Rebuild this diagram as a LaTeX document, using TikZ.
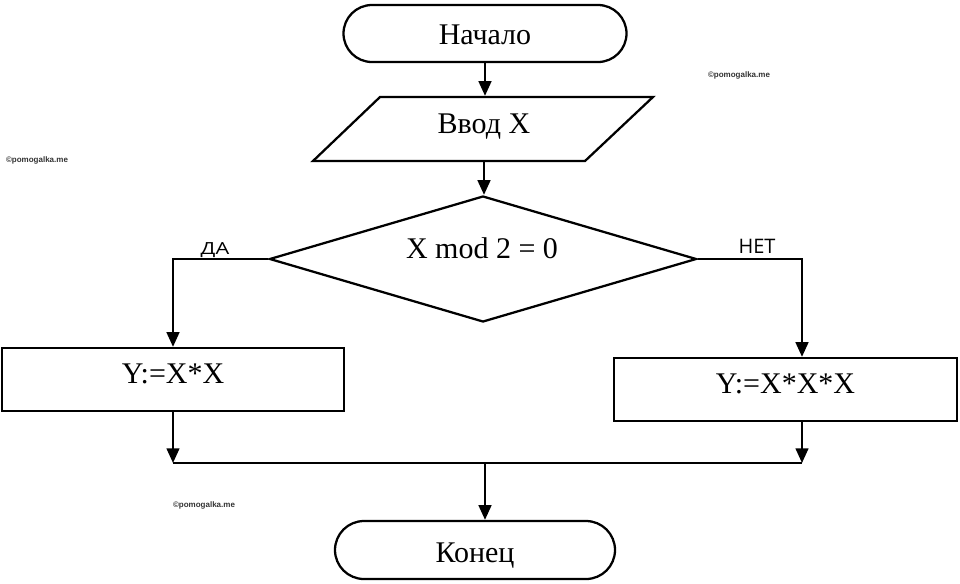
\documentclass[tikz,border=0pt]{standalone}
\usepackage{fontspec}
\setmainfont{Liberation Serif}
\newfontfamily\lblfont{Open Sans}
\newfontfamily\wmfont{Liberation Sans}
\usetikzlibrary{arrows.meta,shapes.geometric,shapes.misc}
\begin{document}
\begin{tikzpicture}[x=0.75pt,y=-0.75pt,
  line width=1.7pt,
  arr/.style={-{Triangle[length=11pt,width=9.5pt]}},
  txt/.style={font=\fontsize{22.5}{27}\selectfont},
  term/.style={draw, rounded rectangle, inner sep=0pt, txt},
  proc/.style={draw, rectangle, inner sep=0pt, txt, text depth=8pt},
  lbl/.style={font=\lblfont\fontsize{15}{18}\selectfont, inner sep=0pt, anchor=base},
  wm/.style={font=\wmfont\bfseries\fontsize{6}{7}\selectfont, text=black!80, inner sep=0pt}]
\useasboundingbox (0,0) rectangle (960,583);
% terminators
\node[term, minimum width=212.25pt, minimum height=42.75pt, text height=16pt, text depth=0pt] (start) at (485,33.5) {Начало};
\node[term, minimum width=210pt, minimum height=43.5pt, text height=19pt, text depth=0pt] (end) at (475,550) {Конец};
% input parallelogram
\node[inner sep=0pt, minimum width=204pt, minimum height=48pt, txt, text depth=8pt] (inp) at (484,129) {Ввод X};
\draw (380,97) -- (653,97) -- (585,161) -- (313,161) -- cycle;
% decision
\node[draw, diamond, inner sep=0pt, minimum width=320.25pt, minimum height=94.5pt] (cond) at (483,259) {};
\node[txt, inner sep=0pt] (condtxt) at (482,248) {X mod 2 = 0};
% process boxes
\node[proc, minimum width=256.5pt, minimum height=47.25pt] (lbox) at (173,379.5) {Y:=X*X};
\node[proc, minimum width=257.25pt, minimum height=47.25pt] (rbox) at (785.5,389.5) {Y:=X*X*X};
% labels
\node[lbl] (da) at (215,254) {\scalebox{1.3}[1]{\fontsize{12.5}{14}\selectfont ДА}};
\node[lbl] (net) at (757,253) {НЕТ};
% watermarks
\node[wm] (wm1) at (739,75) {©pomogalka.me};
\node[wm] (wm2) at (37,160) {©pomogalka.me};
\node[wm] (wm3) at (204,505) {©pomogalka.me};
% junction points
\coordinate (lj) at (173,463);
\coordinate (rj) at (802,463);
\coordinate (mj) at (485,463);
% connectors
\draw[arr] (start.south) -- (start.south |- inp.north);
\draw[arr] (inp.south) -- (inp.south |- cond.north);
\draw[arr] (cond.west) -| (lbox.north);
\draw[arr] (cond.east) -| (rj |- rbox.north);
\draw[arr] (lbox.south) -- (lj);
\draw[arr] (rj |- rbox.south) -- (rj);
\draw (lj) -- (rj);
\draw[arr] (mj) -- (mj |- end.north);
\end{tikzpicture}
\end{document}
